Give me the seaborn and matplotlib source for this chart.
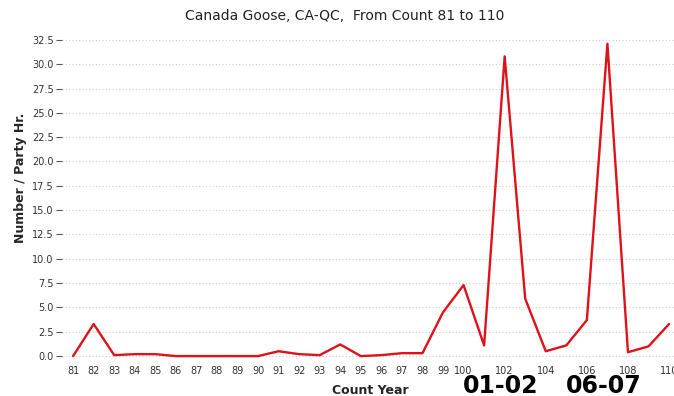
import matplotlib
matplotlib.use("Agg")
import numpy as np
import pandas as pd
import seaborn as sns
from matplotlib import pyplot as plt

# count years and birds per party hour
years = list(range(81, 111))
per_party_hr = [0.0, 3.3, 0.1, 0.2, 0.2, 0.0, 0.0, 0.0, 0.0, 0.0,
                0.5, 0.2, 0.1, 1.2, 0.0, 0.1, 0.3, 0.3, 4.5, 7.3,
                1.1, 30.8, 5.9, 0.5, 1.1, 3.7, 32.1, 0.4, 1.0, 3.3]
x_ticks = list(range(81, 101)) + [102, 104, 106, 108, 110]
y_ticks = [0.0, 2.5, 5.0, 7.5, 10.0, 12.5, 15.0, 17.5, 20.0, 22.5, 25.0, 27.5, 30.0, 32.5]
seasons = ["01-02", "06-07"]

df = pd.DataFrame({"year": years, "value": per_party_hr})

sns.set_theme(style="white")
plt.rcParams["font.family"] = ["DejaVu Sans"]

fig = plt.figure(figsize=(6.74, 3.96), dpi=100)
ax = fig.add_axes([62 / 674, 1 - 360 / 396, 612 / 674, 325 / 396])

sns.lineplot(data=df, x="year", y="value", color="#de1219", linewidth=1.7, ax=ax)

ax.set_xlim(80.46, 110.24)
ax.set_ylim(-0.4, 33.0)
ax.set_xticks(x_ticks)
ax.set_xticklabels([str(t) for t in x_ticks], fontsize=7, color="#333333")
ax.set_yticks(y_ticks)
ax.set_yticklabels([f"{t:.1f}" for t in y_ticks], fontsize=7, color="#333333")
ax.tick_params(axis="y", length=4, width=0.8, color="#555555", pad=2, left=True)
ax.tick_params(axis="x", length=0, pad=4)
ax.yaxis.grid(True, linestyle=(0, (1, 2)), color="#cccccc", linewidth=0.8)
ax.xaxis.grid(False)
for s in ax.spines.values():
    s.set_visible(False)

ax.set_xlabel("Count Year", fontsize=9, fontweight="bold", labelpad=4)
ax.xaxis.set_label_coords((370 - 62) / 612, -0.075)
ax.set_ylabel("Number / Party Hr.", fontsize=9, fontweight="bold", labelpad=2)
ax.yaxis.set_label_coords(-0.058, 0.56)

fig.text(345 / 674, 1 - 16 / 396, "Canada Goose, CA-QC,  From Count 81 to 110",
         ha="center", va="center", fontsize=10, color="#222222")

fig.text(501 / 674, 1 - 386 / 396, seasons[0], ha="center", va="center",
         fontsize=17, fontweight="bold", color="black")
fig.text(604 / 674, 1 - 386 / 396, seasons[1], ha="center", va="center",
         fontsize=17, fontweight="bold", color="black")

fig.savefig("out.png", dpi=100)
